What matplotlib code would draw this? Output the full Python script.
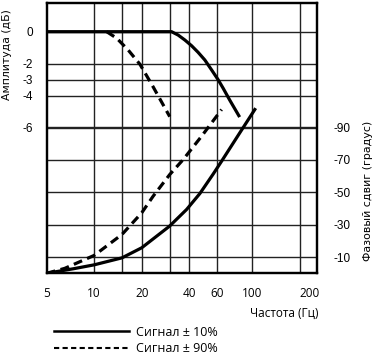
import matplotlib
matplotlib.use("Agg")
import matplotlib.pyplot as plt
from matplotlib.lines import Line2D
from matplotlib.ticker import FixedLocator, NullLocator

# amplitude response (dB) vs frequency (Hz)
amp_freq_10 = [5, 30.9, 34.0, 37.5, 41.4, 45.5, 50.2, 55.4, 61.0, 65.6, 72.3, 82.4]
amp_db_10 = [0, 0, -0.21, -0.52, -0.88, -1.29, -1.77, -2.39, -3.01, -3.54, -4.29, -5.25]
amp_freq_90 = [12.0, 13.9, 16.4, 19.5, 23.6, 30.1]
amp_db_90 = [0, -0.41, -1.14, -2.04, -3.44, -5.31]

# phase shift (degrees) vs frequency (Hz)
ph_freq_10 = [5, 7.4, 10, 15, 20, 30, 38.5, 46.7, 56.7, 64.1, 83.6, 104]
ph_deg_10 = [0, -2.8, -5.2, -9.5, -15.7, -29, -39.3, -49.1, -61.1, -69, -86.5, -100.8]
ph_freq_90 = [5, 6.5, 10, 15, 20, 23.6, 30.1, 36.6, 47.9, 64.1]
ph_deg_90 = [0, -3.0, -11.0, -23.9, -37.2, -47.4, -60.8, -70, -84.4, -100.8]

x_grid = [5, 10, 15, 20, 30, 40, 60, 100, 200]
x_ticks = [5, 10, 20, 40, 60, 100, 200]
amp_ticks = [0, -2, -3, -4, -6]
ph_ticks = [-90, -70, -50, -30, -10]

labels = ["Сигнал ± 10%", "Сигнал ± 90%"]

ARIAL = "Liberation Sans"
MYRIAD = "Open Sans"
WIDE = "DejaVu Sans"

fig = plt.figure(figsize=(3.76, 3.57), dpi=100)
ax = fig.add_axes([0.124, 0.2345, 0.718, 0.7563])
ax2 = ax.twinx()

ax.set_xscale("log")
ax.set_xlim(5, 256)
ax.set_ylim(-15.1, 1.775)
ax2.set_ylim(0, -166.2)

grid_kw = dict(color="#222222", linewidth=1.0, zorder=1)
for f in x_grid[1:]:
    ax.axvline(f, **grid_kw)
for v in amp_ticks:
    ax.axhline(v, **grid_kw)
for v in ph_ticks:
    ax2.axhline(v, **grid_kw)

curve_kw = dict(color="black", linewidth=2.3, zorder=3)
ax.plot(amp_freq_10, amp_db_10, **curve_kw)
ax.plot(amp_freq_90, amp_db_90, dashes=(2.8, 1.7), **curve_kw)
ax2.plot(ph_freq_10, ph_deg_10, **curve_kw)
ax2.plot(ph_freq_90, ph_deg_90, dashes=(2.8, 1.7), **curve_kw)

for a in (ax, ax2):
    for s in a.spines.values():
        s.set_linewidth(1.6)
        s.set_color("black")
    a.tick_params(length=0)

ax.xaxis.set_major_locator(FixedLocator(x_ticks))
ax.xaxis.set_minor_locator(NullLocator())
ax.set_xticklabels([str(t) for t in x_ticks], fontfamily=MYRIAD, fontsize=8.5)
ax.tick_params(axis="x", pad=10)
ax.get_xticklabels()[-1].set_horizontalalignment("left")

ax.set_yticks(amp_ticks)
ax.set_yticklabels([str(t) for t in amp_ticks], fontfamily=ARIAL, fontsize=8.5)
ax.tick_params(axis="y", pad=10)

ax2.set_yticks(ph_ticks)
ax2.set_yticklabels([str(t) for t in ph_ticks], fontfamily=ARIAL, fontsize=8.5)
ax2.tick_params(axis="y", pad=12)

ax.set_ylabel("Амплитуда (дБ)", fontfamily=WIDE, fontsize=7.8)
ax.yaxis.set_label_coords(-0.128, 0.81)
ax2.set_ylabel("Фазовый сдвиг (градус)", fontfamily=WIDE, fontsize=7.9)
ax2.yaxis.set_label_coords(1.172, 0.305)

fig.text(0.846, 0.122, "Частота (Гц)", ha="right", va="center",
         fontfamily=MYRIAD, fontsize=8.5)

handles = [
    Line2D([], [], color="black", linewidth=1.8),
    Line2D([], [], color="black", linewidth=1.5, dashes=(2.5, 1.6)),
]
fig.legend(handles, labels, loc="upper left", bbox_to_anchor=(0.143, 0.088),
           frameon=False, handlelength=6.0, handletextpad=0.6,
           labelspacing=0.3, borderpad=0, borderaxespad=0,
           prop={"family": MYRIAD, "size": 9})

fig.savefig("out.png", dpi=100)
